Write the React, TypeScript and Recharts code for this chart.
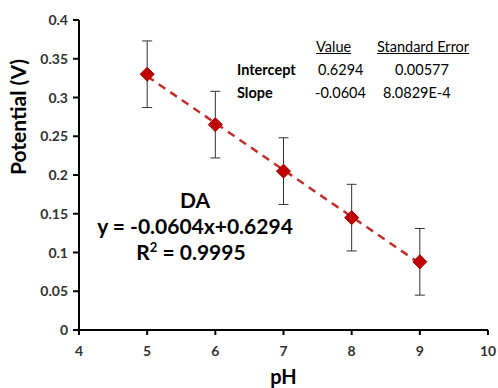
import React from 'react';
import { ScatterChart, Scatter, XAxis, YAxis, ErrorBar, ReferenceLine } from 'recharts';

const phValues = [5, 6, 7, 8, 9];
const potentials = [0.33, 0.265, 0.205, 0.145, 0.088];
const errors = [0.043, 0.043, 0.043, 0.043, 0.043];
const xTicks = [4, 5, 6, 7, 8, 9, 10];
const yTicks = [0, 0.05, 0.1, 0.15, 0.2, 0.25, 0.3, 0.35, 0.4];
const slope = -0.0604;
const intercept = 0.6294;

const data = phValues.map((ph, i) => ({ ph, v: potentials[i], err: errors[i] }));

const FONT = 'Lato, "Open Sans", sans-serif';

const Diamond = (props: any) => {
  const { cx, cy } = props;
  const r = 7;
  return (
    <polygon
      points={`${cx},${cy - r} ${cx + r},${cy} ${cx},${cy + r} ${cx - r},${cy}`}
      fill="#c00000"
      stroke="#a00000"
      strokeWidth={1}
    />
  );
};

// bold tick labels, drawn ourselves so the weight sticks
const XTick = (props: any) => {
  const { x, y, payload } = props;
  return (
    <text x={x} y={y + 19} textAnchor="middle" fill="#333" fontSize={14} fontWeight={700} fontFamily={FONT}>
      {payload.value}
    </text>
  );
};

const YTick = (props: any) => {
  const { x, y, payload } = props;
  return (
    <text x={x - 3} y={y + 5} textAnchor="end" fill="#333" fontSize={14} fontWeight={700} fontFamily={FONT}>
      {payload.value}
    </text>
  );
};

const App: React.FC = () => {
  return (
    <div style={{ position: 'absolute', left: 0, top: 0, width: 498, height: 388, background: '#fff', fontFamily: FONT }}>
      <ScatterChart width={498} height={388} margin={{ top: 20, right: 10, bottom: 28, left: 0 }}>
        <XAxis
          type="number"
          dataKey="ph"
          domain={[4, 10]}
          ticks={xTicks}
          tick={<XTick />}
          stroke="#000"
          strokeWidth={2}
          tickSize={5}
          height={30}
          label={{ value: 'pH', position: 'insideBottom', offset: -24, fill: '#000', fontSize: 20, fontWeight: 700, fontFamily: FONT }}
        />
        <YAxis
          type="number"
          dataKey="v"
          domain={[0, 0.4]}
          ticks={yTicks}
          tick={<YTick />}
          stroke="#000"
          strokeWidth={2}
          tickSize={6}
          width={79}
          label={{ value: 'Potential (V)', angle: -90, position: 'insideLeft', offset: 19, fill: '#000', fontSize: 21, fontWeight: 700, fontFamily: FONT }}
        />
        <ReferenceLine
          segment={[
            { x: 5, y: slope * 5 + intercept },
            { x: 9, y: slope * 9 + intercept },
          ]}
          stroke="#c0302a"
          strokeWidth={2.5}
          strokeDasharray="8 6"
        />
        <Scatter data={data} shape={Diamond} isAnimationActive={false}>
          <ErrorBar dataKey="err" direction="y" width={5} stroke="#333" strokeWidth={1} />
        </Scatter>
      </ScatterChart>

      <div style={{ position: 'absolute', left: 90, top: 187, width: 210, textAlign: 'center', fontSize: 21, fontWeight: 700, color: '#000', lineHeight: '26px' }}>
        <div>DA</div>
        <div style={{ whiteSpace: 'nowrap' }}>y = -0.0604x+0.6294</div>
        <div style={{ marginLeft: -8 }}>R<sup style={{ fontSize: 13, lineHeight: 0 }}>2</sup> = 0.9995</div>
      </div>

      <div style={{ position: 'absolute', left: 0, top: 0, fontSize: 14.5, color: '#000', lineHeight: '18px' }}>
        <div style={{ position: 'absolute', left: 316, top: 38, textDecoration: 'underline', whiteSpace: 'nowrap' }}>Value</div>
        <div style={{ position: 'absolute', left: 377, top: 38, textDecoration: 'underline', whiteSpace: 'nowrap' }}>Standard Error</div>
        <div style={{ position: 'absolute', left: 237, top: 61, fontWeight: 700, whiteSpace: 'nowrap' }}>Intercept</div>
        <div style={{ position: 'absolute', left: 318, top: 61, whiteSpace: 'nowrap' }}>0.6294</div>
        <div style={{ position: 'absolute', left: 395, top: 61, whiteSpace: 'nowrap' }}>0.00577</div>
        <div style={{ position: 'absolute', left: 237, top: 84, fontWeight: 700, whiteSpace: 'nowrap' }}>Slope</div>
        <div style={{ position: 'absolute', left: 315, top: 84, whiteSpace: 'nowrap' }}>-0.0604</div>
        <div style={{ position: 'absolute', left: 383, top: 84, whiteSpace: 'nowrap' }}>8.0829E-4</div>
      </div>
    </div>
  );
};

export default App;
